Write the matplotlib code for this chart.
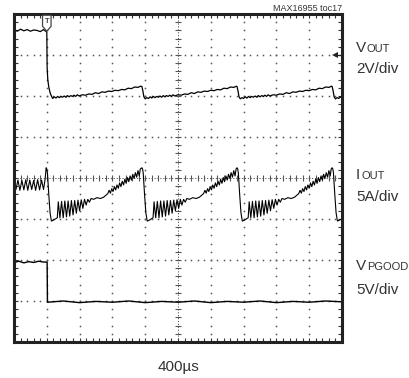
#!/usr/bin/env python3
"""
Scope capture: VOUT, IOUT and VPGOOD during a load transient (MAX16955 toc17).
Traces are in screen divisions (10 x 8 grid), time runs left to right.
"""

import numpy as np
import matplotlib
matplotlib.use("Agg")
import matplotlib.pyplot as plt

W, H = 409, 378
FONT = ["Liberation Sans Narrow", "Liberation Sans", "DejaVu Sans"]
TXT = "#333333"

# ---- trace data (divisions) ----
trigger_t = 1.0

# VOUT before the trigger
vout_pre_t = [0.00, 0.10, 0.20, 0.30, 0.40, 0.50, 0.60, 0.70, 0.80, 0.90, 0.97, 1.00]
vout_pre_v = [3.62, 3.58, 3.63, 3.59, 3.62, 3.58, 3.61, 3.60, 3.57, 3.62, 3.58, 3.56]
# VOUT first fall after trigger
vout_fall_t = [1.01, 1.03, 1.06, 1.10, 1.15]
vout_fall_v = [2.70, 2.40, 2.22, 2.08, 1.98]
# one VOUT cycle, time measured from the current step
vout_cyc_dt = [0.00, 0.03, 0.06, 0.10, 0.15, 0.20, 0.25, 0.30, 0.35, 0.40,
               0.45, 0.50, 0.55, 0.60, 0.65, 0.70, 0.75, 0.80, 0.85, 0.90,
               0.95, 1.00, 1.10, 1.20, 1.30, 1.40, 1.50, 1.60, 1.70, 1.80,
               1.90, 2.00, 2.10, 2.20, 2.30, 2.40, 2.50, 2.60, 2.70, 2.80, 2.88]
vout_cyc_v = [2.23, 2.12, 1.98, 1.93, 1.96, 1.94, 1.98, 1.95, 1.99, 1.96,
              1.99, 1.97, 2.00, 1.97, 2.01, 1.98, 2.01, 1.99, 2.02, 1.99,
              2.03, 2.00, 2.03, 2.02, 2.05, 2.04, 2.08, 2.06, 2.10, 2.09,
              2.12, 2.11, 2.14, 2.13, 2.16, 2.15, 2.19, 2.18, 2.22, 2.21, 2.24]
step_times = [0.98, 3.90, 6.80, 9.70]

# IOUT before the trigger
iout_pre_t = [0.00, 0.06, 0.12, 0.18, 0.24, 0.30, 0.36, 0.42, 0.48, 0.54,
              0.60, 0.66, 0.72, 0.78, 0.84, 0.90, 0.95]
iout_pre_v = [-0.10, -0.28, -0.05, -0.30, -0.06, -0.29, -0.04, -0.30, -0.05, -0.28,
              -0.06, -0.30, -0.04, -0.29, -0.05, -0.28, -0.02]
# one IOUT cycle, time measured from the current step
iout_cyc_dt = [0.00, 0.02, 0.04, 0.08, 0.12, 0.16, 0.22, 0.28, 0.34,
               0.37, 0.42, 0.47, 0.52, 0.57, 0.62, 0.67, 0.72, 0.77, 0.82,
               0.87, 0.92, 0.97, 1.02, 1.07, 1.12, 1.17, 1.22, 1.27, 1.32,
               1.37, 1.45, 1.55, 1.65, 1.75, 1.82, 1.88,
               1.92, 1.96, 2.00, 2.04, 2.08, 2.12, 2.16, 2.20, 2.24, 2.28,
               2.32, 2.36, 2.40, 2.44, 2.48, 2.52, 2.56, 2.60, 2.64, 2.68,
               2.72, 2.76, 2.80, 2.84, 2.87]
iout_cyc_v = [0.25, 0.22, 0.12, -0.40, -0.85, -1.05, -1.03, -1.00, -0.97,
              -0.58, -0.97, -0.57, -0.97, -0.56, -0.95, -0.56, -0.93, -0.55, -0.90,
              -0.55, -0.86, -0.54, -0.80, -0.53, -0.74, -0.52, -0.66, -0.52, -0.59,
              -0.50, -0.52, -0.48, -0.50, -0.47, -0.42, -0.38,
              -0.30, -0.37, -0.26, -0.33, -0.21, -0.29, -0.17, -0.25, -0.12, -0.21,
              -0.08, -0.17, -0.03, -0.13, 0.01, -0.09, 0.05, -0.05, 0.09, -0.01,
              0.13, 0.02, 0.18, 0.05, 0.22]

# VPGOOD
pg_t = [0.00, 0.15, 0.30, 0.45, 0.60, 0.75, 0.90, 1.01, 1.02, 1.5, 2.0, 2.5,
        3.0, 3.5, 4.0, 4.5, 5.0, 5.5, 6.0, 6.5, 7.0, 7.5, 8.0, 8.5, 9.0, 9.5, 10.0]
pg_v = [-2.06, -2.03, -2.07, -2.04, -2.06, -2.03, -2.05, -2.05, -3.03, -3.00, -3.04, -3.01,
        -3.03, -3.00, -3.04, -3.01, -3.03, -3.00, -3.04, -3.01, -3.03, -3.00, -3.04, -3.01,
        -3.03, -3.00, -3.02]

vout_gnd = 3.0

labels = [("V", "OUT", "2V/div", 52, 73),
          ("I", "OUT", "5A/div", 179, 201),
          ("V", "PGOOD", "5V/div", 270, 294)]


def build_traces():
    # VOUT: pre-trigger, first fall, then repeated cycles
    vt = list(vout_pre_t) + list(vout_fall_t)
    vv = list(vout_pre_v) + list(vout_fall_v)
    for k, d in enumerate(step_times):
        for dt, v in zip(vout_cyc_dt, vout_cyc_v):
            if k == 0 and dt < 0.20:
                continue
            vt.append(d + dt)
            vv.append(v)
    it = list(iout_pre_t)
    iv = list(iout_pre_v)
    for d in step_times:
        it += [d + dt for dt in iout_cyc_dt]
        iv += list(iout_cyc_v)
    return vt, vv, it, iv


def main():
    fig = plt.figure(figsize=(W / 100, H / 100), dpi=100)
    fig.patch.set_facecolor("white")
    ax = fig.add_axes([14 / W, (H - 342) / H, 328 / W, 328 / H])
    ax.set_xlim(0, 10)
    ax.set_ylim(-4, 4)

    # dotted graticule
    fine_x = np.arange(0, 10.01, 0.2)
    fine_y = np.arange(-4, 4.01, 0.2)
    for gx in range(1, 10):
        if gx == 5:
            continue
        ax.plot(np.full_like(fine_y, gx), fine_y, ls="none", marker="s",
                ms=1.1, mew=0, color="#555555")
    for gy in range(-3, 4):
        if gy == 0:
            continue
        ax.plot(fine_x, np.full_like(fine_x, gy), ls="none", marker="s",
                ms=1.1, mew=0, color="#555555")
    # center cross with ticks
    ax.axhline(0, color="#555555", lw=0.7, ls=(0, (1.2, 1.8)))
    ax.axvline(5, color="#555555", lw=0.7, ls=(0, (1.2, 1.8)))
    ax.plot(fine_x, np.zeros_like(fine_x), ls="none", marker="|", ms=4,
            mew=0.8, color="#555555")
    ax.plot(np.full_like(fine_y, 5), fine_y, ls="none", marker="_", ms=4,
            mew=0.8, color="#555555")

    vt, vv, it, iv = build_traces()
    ax.plot(vt, vv, color="black", lw=0.9)
    ax.plot(it, iv, color="black", lw=0.8)
    ax.plot(pg_t, pg_v, color="black", lw=1.0)

    # trigger marker
    tx = trigger_t
    ax.fill([tx - 0.13, tx + 0.13, tx + 0.13, tx, tx - 0.13],
            [3.97, 3.97, 3.70, 3.58, 3.70], facecolor="white",
            edgecolor="#444444", lw=0.9, zorder=5)
    ax.text(tx, 3.81, "T", ha="center", va="center", fontsize=5.5,
            fontweight="bold", color="#444444", family=FONT, zorder=6)
    # VOUT ground arrow
    ax.plot([9.78, 10], [vout_gnd, vout_gnd], color="#222222", lw=0.9, clip_on=False)
    ax.plot(9.78, vout_gnd, marker="<", ms=4, color="#222222", mew=0, clip_on=False)

    for s in ax.spines.values():
        s.set_linewidth(2.2)
        s.set_color("#222222")
    ax.set_xticks(np.arange(0, 10.01, 1))
    ax.set_yticks(np.arange(-4, 4.01, 1))
    ax.set_xticks(fine_x, minor=True)
    ax.set_yticks(fine_y, minor=True)
    ax.tick_params(which="both", direction="in", length=3, width=0.8,
                   top=True, right=True, labelbottom=False, labelleft=False,
                   color="#333333")

    # texts
    fig.text(342 / W, 1 - 11 / H, "MAX16955 toc17", ha="right", va="baseline",
             fontsize=6.5, color=TXT, family=FONT)
    fig.text(178 / W, 1 - 371 / H, "400µs", ha="center", va="baseline",
             fontsize=11, color=TXT, family=FONT)

    fig.canvas.draw()
    r = fig.canvas.get_renderer()
    for big, small, scale, y1, y2 in labels:
        t = fig.text(356 / W, 1 - y1 / H, big, ha="left", va="baseline",
                     fontsize=11, color=TXT, family=FONT)
        bb = t.get_window_extent(renderer=r)
        fig.text(bb.x1 / W + 0.002, 1 - y1 / H, small, ha="left", va="baseline",
                 fontsize=8, color=TXT, family=FONT)
        fig.text(356 / W, 1 - y2 / H, scale, ha="left", va="baseline",
                 fontsize=11, color=TXT, family=FONT)

    fig.savefig("out.png", dpi=100, facecolor="white")


if __name__ == "__main__":
    main()
